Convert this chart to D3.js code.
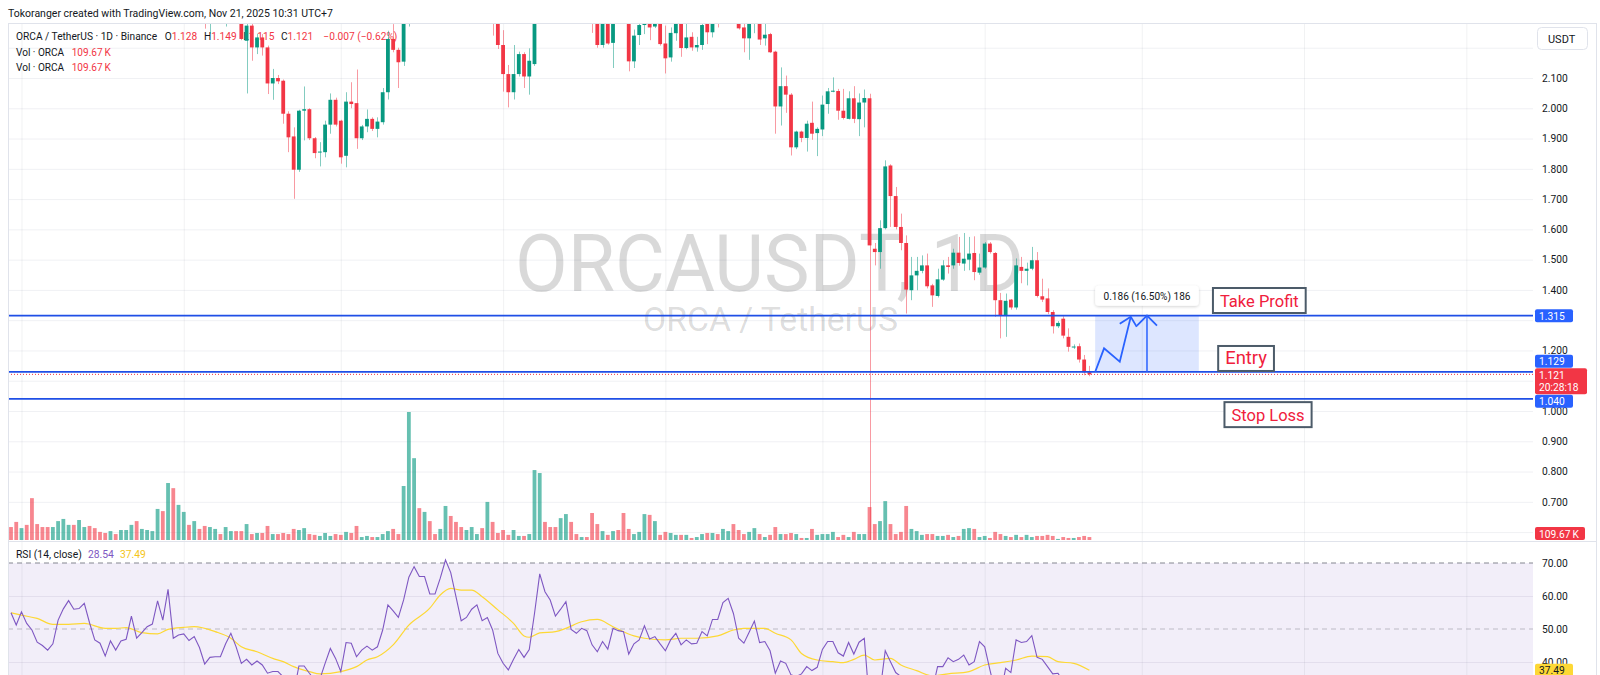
<!DOCTYPE html>
<html>
<head>
<meta charset="utf-8">
<script src="https://d3js.org/d3.v7.min.js"></script>
<style>
  body { margin: 0; background: #fff; }
  svg { display: block; font-family: Roboto, "Liberation Sans", sans-serif; }
</style>
</head>
<body>
<div id="chart"></div>
<script>
// ---- data (daily candles, index 0 = Apr 29 2025, last = Nov 21 2025) ----
// [open, high, low, close]
const candles = [
  [2.75,2.80,2.66,2.70],[2.70,2.74,2.58,2.62],[2.62,2.78,2.60,2.74],[2.74,2.76,2.62,2.65],[2.65,2.70,2.45,2.52],
  [2.52,2.58,2.44,2.48],[2.48,2.52,2.40,2.44],[2.44,2.48,2.36,2.40],[2.40,2.50,2.38,2.47],[2.47,2.62,2.45,2.60],
  [2.60,2.70,2.56,2.66],[2.66,2.78,2.62,2.74],[2.74,2.76,2.62,2.66],[2.66,2.72,2.60,2.68],[2.68,2.80,2.64,2.76],
  [2.76,2.78,2.60,2.63],[2.63,2.66,2.52,2.55],[2.55,2.58,2.48,2.52],[2.52,2.55,2.40,2.44],[2.44,2.56,2.42,2.53],
  [2.53,2.55,2.44,2.47],[2.47,2.58,2.45,2.54],[2.54,2.60,2.50,2.55],[2.55,2.72,2.53,2.68],[2.68,2.70,2.52,2.54],
  [2.54,2.62,2.50,2.58],[2.58,2.64,2.55,2.61],[2.61,2.66,2.57,2.63],[2.63,2.85,2.60,2.80],[2.80,2.84,2.62,2.66],
  [2.66,2.98,2.64,2.92],[2.92,2.96,2.58,2.62],[2.62,2.70,2.55,2.64],[2.64,2.70,2.60,2.66],[2.66,2.68,2.54,2.58],
  [2.58,2.64,2.52,2.61],[2.61,2.63,2.46,2.50],[2.50,2.52,2.263,2.36],[2.36,2.44,2.246,2.40],[2.40,2.50,2.34,2.46],
  [2.46,2.48,2.32,2.36],[2.36,2.42,2.27,2.39],[2.39,2.46,2.32,2.42],[2.42,2.44,2.30,2.34],[2.34,2.36,2.225,2.229],
  [2.223,2.30,2.049,2.273],[2.273,2.29,2.157,2.201],[2.201,2.246,2.179,2.234],[2.234,2.245,2.174,2.201],[2.201,2.207,2.047,2.082],
  [2.082,2.130,2.028,2.100],[2.100,2.110,2.080,2.089],[2.091,2.095,1.949,1.982],[1.982,1.990,1.855,1.904],[1.907,1.937,1.701,1.797],
  [1.797,1.995,1.790,1.992],[1.992,2.072,1.894,1.997],[1.997,2.000,1.895,1.901],[1.901,1.905,1.835,1.852],[1.854,1.888,1.808,1.857],
  [1.855,1.959,1.838,1.946],[1.946,2.049,1.916,2.028],[2.028,2.035,1.940,1.946],[1.959,1.962,1.817,1.838],[1.843,2.053,1.805,2.022],
  [2.022,2.086,2.000,2.014],[2.017,2.128,1.866,1.901],[1.901,1.945,1.895,1.940],[1.940,1.996,1.921,1.965],[1.965,1.970,1.925,1.932],
  [1.932,1.970,1.904,1.956],[1.954,2.067,1.946,2.053],[2.053,2.256,2.029,2.229],[2.229,2.278,2.185,2.193],[2.193,2.200,2.067,2.152],
  [2.154,2.40,2.14,2.35],[2.35,2.62,2.27,2.58],[2.58,2.90,2.52,2.84],[2.84,2.92,2.70,2.76],[2.76,2.88,2.70,2.79],
  [2.79,2.82,2.60,2.64],[2.64,2.72,2.58,2.63],[2.63,2.86,2.60,2.80],[2.80,3.10,2.78,3.02],[3.02,3.06,2.86,2.92],
  [2.92,2.95,2.68,2.72],[2.72,2.76,2.48,2.52],[2.52,2.62,2.48,2.56],[2.56,2.68,2.52,2.64],[2.64,2.72,2.60,2.68],
  [2.68,2.70,2.50,2.54],[2.54,2.62,2.46,2.58],[2.58,2.60,2.24,2.32],[2.32,2.35,2.196,2.209],[2.209,2.258,2.055,2.113],
  [2.113,2.143,2.003,2.053],[2.053,2.209,2.029,2.113],[2.113,2.187,2.105,2.179],[2.179,2.185,2.067,2.105],[2.105,2.198,2.045,2.157],
  [2.146,2.45,2.14,2.40],[2.40,2.78,2.38,2.70],[2.70,2.74,2.56,2.60],[2.60,2.64,2.52,2.56],[2.56,2.58,2.44,2.47],
  [2.47,2.56,2.44,2.52],[2.52,2.64,2.48,2.58],[2.58,2.60,2.40,2.43],[2.43,2.46,2.38,2.41],[2.41,2.46,2.38,2.44],
  [2.44,2.45,2.36,2.42],[2.42,2.46,2.249,2.36],[2.36,2.38,2.20,2.209],[2.209,2.36,2.20,2.32],[2.32,2.34,2.21,2.214],
  [2.216,2.36,2.133,2.31],[2.36,2.40,2.30,2.33],[2.33,2.36,2.29,2.31],[2.31,2.33,2.122,2.155],[2.155,2.260,2.133,2.240],
  [2.242,2.30,2.209,2.275],[2.275,2.33,2.245,2.30],[2.30,2.32,2.225,2.267],[2.270,2.31,2.265,2.29],[2.29,2.30,2.207,2.212],
  [2.214,2.273,2.115,2.165],[2.168,2.267,2.154,2.249],[2.248,2.34,2.223,2.31],[2.31,2.32,2.170,2.199],[2.199,2.28,2.195,2.234],
  [2.236,2.251,2.190,2.201],[2.201,2.236,2.187,2.209],[2.209,2.285,2.193,2.275],[2.29,2.31,2.212,2.251],[2.251,2.33,2.234,2.30],
  [2.33,2.36,2.267,2.30],[2.30,2.40,2.29,2.37],[2.37,2.46,2.34,2.42],[2.42,2.44,2.31,2.34],[2.34,2.36,2.26,2.264],
  [2.267,2.28,2.185,2.231],[2.231,2.31,2.160,2.29],[2.29,2.34,2.248,2.32],[2.32,2.33,2.209,2.227],[2.231,2.28,2.207,2.243],
  [2.245,2.249,2.183,2.185],[2.187,2.190,1.916,2.006],[2.006,2.135,1.943,2.073],[2.073,2.108,1.985,2.045],[2.045,2.050,1.844,1.871],
  [1.871,1.926,1.865,1.923],[1.923,1.926,1.888,1.902],[1.902,1.959,1.857,1.949],[1.952,2.022,1.896,1.916],[1.918,1.937,1.842,1.932],
  [1.930,2.042,1.908,2.012],[2.014,2.067,1.982,2.056],[2.056,2.102,2.053,2.058],[2.057,2.064,1.962,1.992],[1.992,2.064,1.963,1.968],
  [1.965,2.056,1.963,2.033],[2.033,2.073,1.951,1.965],[1.964,2.049,1.908,2.019],[2.019,2.062,1.937,2.034],[2.033,2.048,0.55,1.547],
  [1.536,1.555,1.481,1.525],[1.525,1.630,1.470,1.604],[1.604,1.828,1.600,1.808],[1.811,1.815,1.608,1.710],[1.710,1.740,1.600,1.608],
  [1.608,1.652,1.531,1.555],[1.555,1.580,1.322,1.401],[1.399,1.509,1.366,1.448],[1.448,1.509,1.399,1.463],[1.463,1.514,1.455,1.481],
  [1.481,1.520,1.405,1.412],[1.415,1.420,1.344,1.382],[1.380,1.470,1.375,1.435],[1.434,1.498,1.430,1.481],[1.481,1.509,1.454,1.476],
  [1.481,1.536,1.470,1.523],[1.523,1.575,1.480,1.489],[1.487,1.588,1.463,1.503],[1.500,1.575,1.465,1.520],[1.522,1.577,1.432,1.459],
  [1.457,1.520,1.450,1.474],[1.474,1.558,1.470,1.553],[1.553,1.558,1.520,1.525],[1.522,1.525,1.311,1.366],[1.366,1.390,1.240,1.317],
  [1.317,1.388,1.245,1.364],[1.368,1.370,1.335,1.342],[1.342,1.504,1.335,1.481],[1.476,1.509,1.422,1.463],[1.463,1.490,1.415,1.470],
  [1.470,1.542,1.465,1.498],[1.498,1.525,1.375,1.380],[1.379,1.437,1.360,1.368],[1.372,1.405,1.320,1.327],[1.327,1.333,1.256,1.280],
  [1.280,1.297,1.274,1.291],[1.305,1.313,1.240,1.249],[1.245,1.273,1.196,1.212],[1.210,1.220,1.205,1.213],[1.214,1.223,1.160,1.170],
  [1.170,1.185,1.118,1.128],[1.128,1.149,1.115,1.121]
];

// volume in thousands of ORCA
const volumes = [
  480,670,440,560,1550,590,480,480,480,700, 780,560,560,740,480,520,440,300,260,330,
  220,370,370,560,700,410,370,330,1150,1070, 2110,1920,1300,1040,560,700,410,520,480,410,
  220,480,330,330,330,590,220,260,260,520, 220,220,260,220,410,370,440,220,190,150,
  260,150,220,190,300,260,520,110,150,110, 110,220,330,410,220,2000,4740,3030,1180,1040,
  700,220,410,1260,890,670,480,370,480,220, 440,1410,670,260,370,190,370,150,150,220,
  2590,2480,670,480,480,810,960,670,220,110, 110,1000,590,330,190,330,370,1000,410,220,
  300,960,930,700,190,300,260,190,190,190, 75,110,220,260,260,220,410,330,590,370,
  220,300,440,220,110,190,480,220,220,260, 220,75,75,410,190,220,220,300,110,190,
  110,300,220,220,1220,590,700,1440,590,220, 300,1260,410,330,190,220,220,150,150,190,
  110,150,410,440,410,110,150,75,300,220, 150,110,190,110,190,110,150,150,190,150,
  40,110,75,75,110,150,110
];

// RSI(14)
const rsiValues = [
  54.9,51.2,55.2,51.7,49.7,46.0,45.0,43.6,45.5,52.7, 56.1,58.6,56.0,56.2,57.8,51.9,46.7,45.7,41.8,46.4,
  43.6,46.4,46.9,53.9,47.2,48.9,50.7,51.5,58.5,52.7, 62.0,47.2,48.2,48.5,46.5,47.7,44.4,39.4,41.4,41.6,
  41.6,45.5,48.7,44.6,39.6,40.8,39.1,40.3,39.1,36.6, 37.1,37.1,35.5,33.5,30.5,38.8,38.8,36.6,34.5,34.8,
  39.6,44.1,41.1,37.1,45.9,45.7,41.6,43.6,44.8,43.6, 44.6,49.7,57.3,55.5,53.5,58.8,65.7,68.9,65.9,65.9,
  60.6,60.6,65.4,70.9,67.1,59.8,52.5,53.5,56.0,57.3, 52.5,53.5,49.7,42.6,39.6,37.6,40.8,43.8,41.4,43.8,
  54.7,66.7,61.3,58.8,53.9,56.0,58.3,49.9,48.7,50.2, 49.5,45.2,43.1,46.2,43.9,50.2,49.5,49.2,42.4,45.5,
  46.7,51.0,47.0,47.7,45.5,43.4,46.7,48.7,45.2,46.7, 45.5,45.7,49.2,47.9,52.9,52.9,58.0,59.3,54.7,47.2,
  45.7,49.0,52.4,45.9,46.2,43.4,36.6,40.3,39.6,36.1, 35.6,36.4,38.6,37.4,38.4,43.8,46.2,46.2,42.8,41.8,
  45.9,42.4,46.0,47.2,27.0,26.5,31.0,43.4,40.1,36.8, 35.6,30.0,33.0,34.0,35.5,32.5,31.5,38.6,38.6,41.3,
  40.1,40.8,42.1,39.1,40.1,46.2,44.6,37.6,31.0,30.0, 38.1,36.8,46.7,45.9,46.2,48.0,41.4,40.8,38.6,36.4,
  36.6,34.0,32.0,32.0,30.0,28.5,28.54
];

// RSI-based MA (yellow), read at these candle indices
const rsiMaIndex = [0,2,5,8,11,14,18,20,22,25,28,30,33,35,39,42,44,47,50,52,54,57,59,63,66,68,70,73,76,80,
  82,84,86,88,90,93,96,98,99,101,104,106,109,112,115,119,121,125,128,131,135,138,140,144,146,149,151,154,157,159,
  161,163,165,168,170,173,176,179,183,186,189,192,195,198,200,203,206];
const rsiMaValues = [54.9,54.2,53.2,51.4,51.4,51.7,50.2,50.2,50.4,48.9,48.5,49.9,50.5,50.7,49.2,47.2,44.6,43.1,41.1,40.1,
  38.6,37.1,36.4,37.1,38.6,40.6,41.6,45.2,51.2,56.3,60.3,62.3,61.8,61.8,59.8,55.8,51.7,47.9,47.5,48.8,
  49.2,50.2,52.2,52.9,50.7,47.9,47.2,46.7,47.2,47.2,47.9,49.7,50.2,50.2,48.7,46.7,42.6,40.6,40.1,39.8,
  40.8,42.1,40.6,41.1,39.1,37.4,35.8,36.4,37.1,39.1,39.8,40.6,41.8,41.6,40.1,39.6,37.49];

const priceGrid = [2.2,2.1,2.0,1.9,1.8,1.7,1.6,1.5,1.4,1.3,1.2,1.1,1.0,0.9,0.8,0.7,0.6];
const priceLabels = [2.1,2.0,1.9,1.8,1.7,1.6,1.5,1.4,1.2,1.0,0.9,0.8,0.7];
const rsiLabels = [70,60,50,40];
const monthGridIndex = [2,33,63,94,125,155,186,216,247,278];

const levelNames = ['Take Profit','Entry','Stop Loss'];
const levelPrices = [1.315, 1.129, 1.040];
const levelBoxIndex = [229.6, 230.6, 231.8];
const levelBoxPrice = [1.365, 1.1735, 0.988];
const lastPrice = 1.121;
const lastVolume = 109.67;
const countdown = '20:28:18';

const zigzagIndex = [207.1, 208.8, 211.8, 213.9];
const zigzagPrice = [1.129, 1.207, 1.163, 1.311];
const rangeIndex = [207.1, 226.9];
const rangeArrowIndex = 217;
const rangeStats = [0.186, 16.50, 186];

// ---- layout ----
const W = 1600, H = 675;
const plotL = 8, plotR = 1533, paneTop = 23, paneBottom = 540, rsiTop = 541;
const up = '#089981', down = '#f23645', blue = '#2962ff';
const textColor = '#131722';

const x = d3.scaleLinear().domain([0, 206]).range([11, 1089.4]);
const y = d3.scaleLinear().domain([1.0, 2.1]).range([411, 78]);
const yVol = d3.scaleLinear().domain([0, 4740]).range([paneBottom, 412]);
const yRsi = d3.scaleLinear().domain([40, 70]).range([662, 563]);

// scale a text's font so that it spans the width measured on the original
function fit(sel, width) {
  const fs = parseFloat(sel.attr('font-size'));
  const w = sel.node().getBBox().width;
  if (w > 0) sel.attr('font-size', (fs * width / w).toFixed(2));
  return sel;
}

const svg = d3.select('#chart').append('svg')
  .attr('width', W).attr('height', H);
svg.append('rect').attr('width', W).attr('height', H).attr('fill', '#fff');

const defs = svg.append('defs');
defs.append('clipPath').attr('id', 'clipPrice').append('rect')
  .attr('x', plotL).attr('y', paneTop).attr('width', plotR - plotL).attr('height', paneBottom - paneTop);
defs.append('clipPath').attr('id', 'clipRsi').append('rect')
  .attr('x', plotL).attr('y', rsiTop).attr('width', plotR - plotL).attr('height', H - rsiTop);
const shadow = defs.append('filter').attr('id', 'shadow').attr('x', -0.2).attr('y', -0.5).attr('width', 1.4).attr('height', 2);
shadow.append('feDropShadow').attr('dx', 0).attr('dy', 1).attr('stdDeviation', 1.5).attr('flood-opacity', 0.18);

// header
fit(svg.append('text').attr('x', 8).attr('y', 17)
  .attr('font-size', 11).attr('fill', textColor)
  .text('Tokoranger created with TradingView.com, Nov 21, 2025 10:31 UTC+7'), 325);

// RSI band background
svg.append('rect').attr('x', plotL).attr('width', plotR - plotL)
  .attr('y', yRsi(70)).attr('height', H - yRsi(70))
  .attr('fill', 'rgba(126,87,194,0.1)');

// horizontal price grid
const gridG = svg.append('g').attr('clip-path', 'url(#clipPrice)');
gridG.append('g')
  .attr('transform', 'translate(' + plotL + ',0)')
  .call(d3.axisRight(y).tickValues(priceGrid).tickSize(plotR - plotL).tickFormat(''))
  .call(g => g.select('.domain').remove())
  .call(g => g.selectAll('line').attr('stroke', '#f0f1f4'));

// RSI grid (60 / 40)
svg.append('g')
  .attr('transform', 'translate(' + plotL + ',0)')
  .call(d3.axisRight(yRsi).tickValues([60, 40]).tickSize(plotR - plotL).tickFormat(''))
  .call(g => g.select('.domain').remove())
  .call(g => g.selectAll('line').attr('stroke', 'rgba(120,110,160,0.12)'));

// vertical month grid across both panes
svg.append('g')
  .attr('transform', 'translate(0,' + paneTop + ')')
  .call(d3.axisBottom(x).tickValues(monthGridIndex).tickSize(H - paneTop).tickFormat(''))
  .call(g => g.select('.domain').remove())
  .call(g => g.selectAll('line').attr('stroke', 'rgba(120,123,134,0.1)'));

// RSI dashed levels
[[70, '#787b86', 0.9], [50, '#787b86', 0.45]].forEach(function (d) {
  svg.append('line').attr('x1', plotL).attr('x2', plotR)
    .attr('y1', yRsi(d[0])).attr('y2', yRsi(d[0]))
    .attr('stroke', d[1]).attr('stroke-opacity', d[2]).attr('stroke-dasharray', '5,4');
});

// watermark
svg.append('text').attr('x', 769.5).attr('y', 291).attr('text-anchor', 'middle')
  .attr('font-size', 80).attr('fill', 'rgba(0,0,0,0.15)')
  .attr('textLength', 509).attr('lengthAdjust', 'spacingAndGlyphs')
  .text('ORCAUSDT, 1D');
fit(svg.append('text').attr('x', 643).attr('y', 331)
  .attr('font-size', 32).attr('fill', 'rgba(0,0,0,0.15)')
  .text('ORCA / TetherUS'), 255);

// legend (drawn under the candles, as in the original)
const legend = svg.append('g');
const l1 = legend.append('text').attr('x', 16).attr('y', 40).attr('font-size', 11).attr('fill', textColor);
l1.append('tspan').text('ORCA / TetherUS · 1D · Binance');
const last = candles[candles.length - 1];
const prevClose = candles[candles.length - 2][3];
const ohlcLetters = ['O', 'H', 'L', 'C'];
[0, 1, 2, 3].forEach(function (k, j) {
  l1.append('tspan').attr('dx', j === 0 ? '0.75em' : '0.65em').attr('fill', textColor).text(ohlcLetters[j]);
  l1.append('tspan').attr('fill', down).text(d3.format('.3f')(last[k]));
});
const chg = last[3] - prevClose;
l1.append('tspan').attr('dx', '1em').attr('fill', down)
  .text((d3.format('.3f')(chg) + ' (' + d3.format('.2f')(chg / prevClose * 100) + '%)').replace(/-/g, '\u2212'));
fit(l1, 382);
[55.5, 70.5].forEach(function (yy) {
  const t = legend.append('text').attr('x', 16).attr('y', yy).attr('font-size', 11).attr('fill', textColor);
  t.append('tspan').text('Vol · ORCA');
  t.append('tspan').attr('dx', '0.75em').attr('fill', down).text(d3.format('.2f')(lastVolume) + '\u2009K');
  fit(t, 95);
});

// volume bars
const priceG = svg.append('g').attr('clip-path', 'url(#clipPrice)');
priceG.append('g').selectAll('rect').data(volumes).join('rect')
  .attr('x', (d, i) => x(i) - 1.9)
  .attr('width', 3.8)
  .attr('y', d => yVol(d))
  .attr('height', d => paneBottom - yVol(d))
  .attr('fill', (d, i) => candles[i][3] >= candles[i][0] ? 'rgba(8,153,129,0.62)' : 'rgba(242,54,69,0.6)');

// candles
const cg = priceG.append('g');
cg.selectAll('line').data(candles).join('line')
  .attr('x1', (d, i) => Math.round(x(i)) + 0.5).attr('x2', (d, i) => Math.round(x(i)) + 0.5)
  .attr('y1', d => y(d[1])).attr('y2', d => y(d[2]))
  .attr('stroke', d => d[3] >= d[0] ? up : down)
  .attr('stroke-opacity', 0.5);
cg.selectAll('rect').data(candles).join('rect')
  .attr('x', (d, i) => x(i) - 1.9)
  .attr('width', 3.8)
  .attr('y', d => y(Math.max(d[0], d[3])))
  .attr('height', d => Math.max(1, Math.abs(y(d[0]) - y(d[3]))))
  .attr('fill', d => d[3] >= d[0] ? up : down);

// last price dotted line
svg.append('line').attr('x1', plotL).attr('x2', plotR)
  .attr('y1', y(lastPrice)).attr('y2', y(lastPrice))
  .attr('stroke', down).attr('stroke-dasharray', '1,2');

// price range tool
const drawG = svg.append('g').attr('clip-path', 'url(#clipPrice)');
drawG.append('rect')
  .attr('x', x(rangeIndex[0])).attr('width', x(rangeIndex[1]) - x(rangeIndex[0]))
  .attr('y', y(levelPrices[0])).attr('height', y(levelPrices[1]) - y(levelPrices[0]))
  .attr('fill', 'rgba(41,98,255,0.16)');

// horizontal levels
drawG.selectAll('line.level').data(levelPrices).join('line').attr('class', 'level')
  .attr('x1', plotL).attr('x2', plotR)
  .attr('y1', d => y(d)).attr('y2', d => y(d))
  .attr('stroke', '#1f4fe6').attr('stroke-width', 1.8);

// zigzag path with arrow head
const zz = zigzagIndex.map((d, i) => [x(d), y(zigzagPrice[i])]);
drawG.append('path').attr('d', d3.line()(zz))
  .attr('fill', 'none').attr('stroke', blue).attr('stroke-width', 1.8);
const tip = zz[zz.length - 1];
drawG.append('path').attr('d', d3.line()([[tip[0] - 11, tip[1] + 7], tip, [tip[0] + 6, tip[1] + 10]]))
  .attr('fill', 'none').attr('stroke', blue).attr('stroke-width', 1.8);

// vertical measure arrow
const ax = x(rangeArrowIndex);
drawG.append('line').attr('x1', ax).attr('x2', ax)
  .attr('y1', y(levelPrices[1])).attr('y2', y(levelPrices[0]))
  .attr('stroke', blue).attr('stroke-width', 1.5);
drawG.append('path').attr('d', d3.line()([[ax - 10, y(levelPrices[0]) + 10], [ax, y(levelPrices[0])], [ax + 10, y(levelPrices[0]) + 10]]))
  .attr('fill', 'none').attr('stroke', blue).attr('stroke-width', 1.8);

// range label
const rangeText = d3.format('.3f')(rangeStats[0]) + ' (' + d3.format('.2f')(rangeStats[1]) + '%) ' + rangeStats[2];
const rl = svg.append('g');
const rlx = (x(rangeIndex[0]) + x(rangeIndex[1])) / 2;
rl.append('rect').attr('x', x(rangeIndex[0])).attr('width', x(rangeIndex[1]) - x(rangeIndex[0]))
  .attr('y', y(levelPrices[0]) - 30).attr('height', 20).attr('rx', 4)
  .attr('fill', '#fff').attr('filter', 'url(#shadow)');
fit(rl.append('text').attr('x', rlx).attr('y', y(levelPrices[0]) - 16).attr('text-anchor', 'middle')
  .attr('font-size', 11.5).attr('fill', textColor).text(rangeText), 87);

// text boxes
levelNames.forEach(function (name, i) {
  const g = svg.append('g');
  const bx = x(levelBoxIndex[i]), cy = y(levelBoxPrice[i]);
  const t = g.append('text').attr('x', bx + 7).attr('y', cy + 6)
    .attr('font-size', 16.5).attr('fill', '#f0203c').text(name);
  if (name === 'Entry') { fit(t, 42); }
  const w = t.node().getComputedTextLength() + 14;
  g.insert('rect', 'text').attr('x', bx).attr('y', cy - 12.5).attr('width', w).attr('height', 25)
    .attr('fill', '#fff').attr('stroke', '#4c5b69').attr('stroke-width', 2);
});

// RSI lines
const rsiG = svg.append('g').attr('clip-path', 'url(#clipRsi)');
rsiG.append('path')
  .attr('d', d3.line().x((d, i) => x(rsiMaIndex[i])).y(d => yRsi(d)).curve(d3.curveMonotoneX)(rsiMaValues))
  .attr('fill', 'none').attr('stroke', '#fdd835').attr('stroke-width', 1.2);
rsiG.append('path')
  .attr('d', d3.line().x((d, i) => x(i)).y(d => yRsi(d))(rsiValues))
  .attr('fill', 'none').attr('stroke', '#7e57c2').attr('stroke-width', 1.1);

// RSI legend
const rl2 = svg.append('text').attr('x', 16).attr('y', 557.5).attr('font-size', 11).attr('fill', textColor);
rl2.append('tspan').text('RSI (14, close)');
rl2.append('tspan').attr('dx', '0.6em').attr('fill', '#7e57c2').text(d3.format('.2f')(rsiValues[rsiValues.length - 1]));
rl2.append('tspan').attr('dx', '0.6em').attr('fill', '#f5c518').text(d3.format('.2f')(rsiMaValues[rsiMaValues.length - 1]));
fit(rl2, 130);

// frame
const frame = svg.append('g').attr('stroke', '#e0e3eb').attr('fill', 'none');
frame.append('line').attr('x1', plotL).attr('x2', W - 3).attr('y1', paneTop + 0.5).attr('y2', paneTop + 0.5);
frame.append('line').attr('x1', plotL + 0.5).attr('x2', plotL + 0.5).attr('y1', paneTop).attr('y2', H);
frame.append('line').attr('x1', plotL).attr('x2', W - 3).attr('y1', rsiTop + 0.5).attr('y2', rsiTop + 0.5);
frame.append('line').attr('x1', W - 3.5).attr('x2', W - 3.5).attr('y1', paneTop).attr('y2', H);

// price axis labels
const probe = svg.append('text').attr('font-size', 11).text('2.100');
const axisFont = (11 * 25.7 / probe.node().getComputedTextLength()).toFixed(2);
probe.remove();
svg.append('g').attr('transform', 'translate(1536,0)')
  .call(d3.axisRight(y).tickValues(priceLabels).tickSize(0).tickPadding(6).tickFormat(d3.format('.3f')))
  .call(g => g.select('.domain').remove())
  .call(g => g.selectAll('text').attr('font-size', axisFont).attr('fill', textColor).attr('font-family', 'Roboto, sans-serif'));
svg.append('g').attr('transform', 'translate(1536,0)')
  .call(d3.axisRight(yRsi).tickValues(rsiLabels).tickSize(0).tickPadding(6).tickFormat(d3.format('.2f')))
  .call(g => g.select('.domain').remove())
  .call(g => g.selectAll('text').attr('font-size', axisFont).attr('fill', textColor).attr('font-family', 'Roboto, sans-serif'));

// USDT box
svg.append('rect').attr('x', 1537.5).attr('y', 27.5).attr('width', 50).attr('height', 22).attr('rx', 4)
  .attr('fill', '#fff').attr('stroke', '#e0e3eb');
fit(svg.append('text').attr('x', 1548).attr('y', 42.5)
  .attr('font-size', 10.5).attr('fill', textColor).text('USDT'), 28);

// axis tags
function tag(cy, txt, fill, color, w) {
  svg.append('rect').attr('x', 1535).attr('y', cy - 6.5).attr('width', w || 38).attr('height', 13).attr('rx', 2).attr('fill', fill);
  svg.append('text').attr('x', 1539).attr('y', cy + 4).attr('font-size', axisFont).attr('fill', color).text(txt);
}
const fmt3 = d3.format('.3f');
const redTop = y(lastPrice) - 6;
tag(y(levelPrices[0]), fmt3(levelPrices[0]), blue, '#fff');
tag(Math.min(y(levelPrices[1]), redTop - 7), fmt3(levelPrices[1]), blue, '#fff');
tag(Math.max(y(levelPrices[2]), redTop + 26 + 7), fmt3(levelPrices[2]), blue, '#fff');
svg.append('rect').attr('x', 1535).attr('y', redTop).attr('width', 52).attr('height', 26).attr('rx', 2).attr('fill', down);
svg.append('text').attr('x', 1539).attr('y', redTop + 11).attr('font-size', axisFont).attr('fill', '#fff').text(fmt3(lastPrice));
svg.append('text').attr('x', 1539).attr('y', redTop + 23).attr('font-size', axisFont).attr('fill', '#fff').text(countdown);
tag(paneBottom - 6.5, d3.format('.2f')(lastVolume) + '\u2009K', down, '#fff', 50);
tag(yRsi(rsiMaValues[rsiMaValues.length - 1]), d3.format('.2f')(rsiMaValues[rsiMaValues.length - 1]), '#fdd835', textColor);
</script>
</body>
</html>
